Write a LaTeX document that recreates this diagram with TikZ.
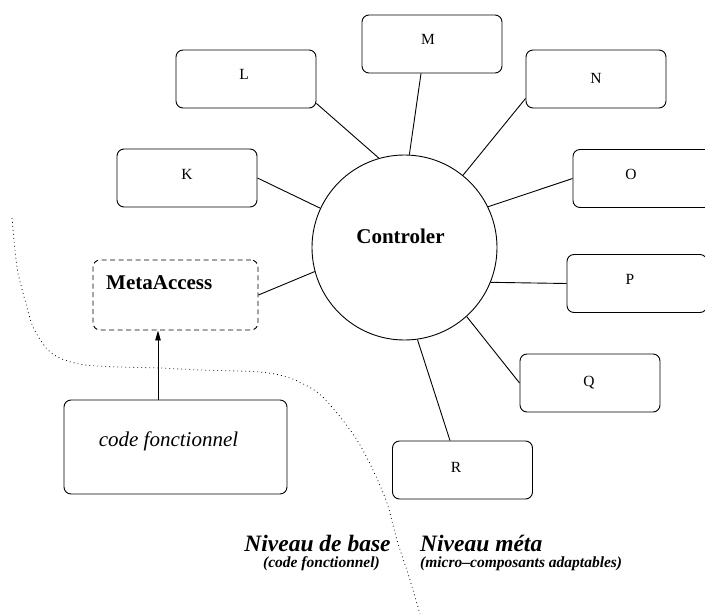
\documentclass[tikz,border=0pt]{standalone}
\usepackage{fontspec}
\setmainfont{Liberation Serif}
\usetikzlibrary{arrows.meta}
\begin{document}
\begin{tikzpicture}[x=1pt, y=-1pt,
  box/.style={draw, rounded corners=7pt, line width=0.9pt,
    minimum width=140pt, minimum height=58pt, inner sep=0pt},
  metabox/.style={box, dashed, dash pattern=on 5pt off 3.5pt,
    minimum width=165pt, minimum height=70pt},
  codebox/.style={box, minimum width=223pt, minimum height=94pt},
  hub/.style={draw, circle, line width=0.9pt, minimum size=185pt, inner sep=0pt},
  lbl/.style={inner sep=0pt, font=\fontsize{15.5}{18}\selectfont},
  bigbold/.style={inner sep=0pt, font=\fontsize{21}{24}\selectfont\bfseries},
  bigital/.style={inner sep=0pt, font=\fontsize{21}{24}\selectfont\itshape},
  level/.style={inner sep=0pt, font=\fontsize{23.5}{27}\selectfont\bfseries\itshape},
  sublevel/.style={inner sep=0pt, font=\fontsize{15.5}{18}\selectfont\bfseries\itshape},
  link/.style={line width=0.9pt},
  border/.style={line width=0.8pt, dash pattern=on 0.8pt off 3.2pt}
]
\useasboundingbox (0,0) rectangle (705,614);

% central controller
\node[hub] (ctl) at (404.5,247.5) {};
\node[bigbold, anchor=base] (ctltext) at (400.5,243) {Controler};

% micro-components around the controller
\node[box] (K) at (187,178) {};
\node[box] (L) at (246,79) {};
\node[box] (M) at (432,44) {};
\node[box] (N) at (596,79) {};
\node[box] (O) at (643,178.5) {};
\node[box] (P) at (637,283.5) {};
\node[box] (Q) at (590,383) {};
\node[box] (R) at (462.5,470) {};

\node[lbl] (Kt) at (187,174) {K};
\node[lbl] (Lt) at (244,74) {L};
\node[lbl] (Mt) at (428,39) {M};
\node[lbl] (Nt) at (596,78) {N};
\node[lbl] (Ot) at (631,174) {O};
\node[lbl] (Pt) at (630,279) {P};
\node[lbl] (Qt) at (589,383) {Q};
\node[lbl] (Rt) at (456,467) {R};

% meta access point and functional code
\node[metabox] (meta) at (175.5,295) {};
\node[bigbold, anchor=base west] (metatext) at (106,289) {MetaAccess};
\node[codebox] (code) at (175.5,447) {};
\node[bigital, anchor=base] (codetext) at (168.5,446) {code fonctionnel};

% links to the controller
\draw[link] (ctl.87.2) -- ([xshift=-11pt]M.south);
\draw[link] (ctl.106) -- ([yshift=5pt]L.south east);
\draw[link] (ctl.155.7) -- (K.east);
\draw[link] (ctl.195.9) -- (meta.east);
\draw[link] (ctl.51.6) -- ([yshift=10pt]N.south west);
\draw[link] (ctl.26.5) -- (O.west);
\draw[link] (ctl.-22.5) -- (P.west);
\draw[link] (ctl.-48.4) -- (Q.west);
\draw[link] (ctl.-82.8) -- ([xshift=-12.5pt]R.north);

% functional code reaches the meta level
\draw[link, -{Triangle[length=10pt,width=5.5pt]}]
  ([xshift=-17.5pt]code.north) -- ([xshift=-17.5pt]meta.south);

% boundary between base level and meta level
\draw[border] plot[smooth] coordinates {
  (12,218) (15,250) (18,273) (25,300) (33,327) (47,349) (62,359)
  (85,365) (120,367) (160,368) (200,370) (260,372) (290,378) (317,392)
  (337,413) (357,440) (373,470) (387,503) (397,540) (410,580) (420,614)};

% level captions
\node[level, anchor=base] (base) at (317.5,551) {Niveau de base};
\node[sublevel, anchor=base] (basesub) at (321.5,567.5) {(code fonctionnel)};
\node[level, anchor=base west] (metalvl) at (420,551) {Niveau méta};
\node[sublevel, anchor=base west] (metasub) at (420,567.5) {(micro–composants adaptables)};
\end{tikzpicture}
\end{document}
